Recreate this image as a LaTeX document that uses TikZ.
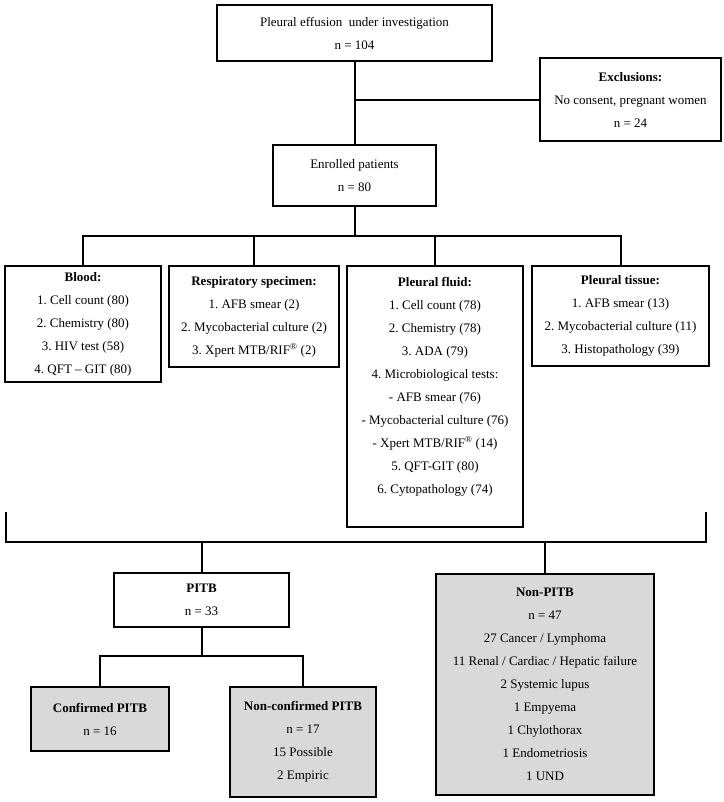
\documentclass[tikz,border=0pt]{standalone}
\usepackage{fontspec}
\setmainfont{Liberation Serif}
\frenchspacing

\begin{document}
\begin{tikzpicture}[x=1pt, y=-1pt, line width=2pt,
    box/.style={draw, align=center, inner sep=0pt, font=\fontsize{13}{23}\selectfont},
    greybox/.style={box, fill=black!15}]
\useasboundingbox (0,0) rectangle (723,802);

\node[box, minimum width=275, minimum height=56] (effusion) at (354.5,33)
    {Pleural effusion \ under investigation\\ n = 104};
\node[box, minimum width=181, minimum height=83] (excl) at (630.5,100)
    {\textbf{Exclusions:}\\ No consent, pregnant women\\ n = 24};
\node[box, minimum width=163, minimum height=61] (enrolled) at (354.5,175.5)
    {Enrolled patients\\ n = 80};

\node[box, minimum width=156, minimum height=116] (blood) at (83,324)
    {\textbf{Blood:}\\ 1. Cell count (80)\\ 2. Chemistry (80)\\ 3. HIV test (58)\\ 4. QFT -- GIT (80)};
\node[box, minimum width=170, minimum height=101] (resp) at (254,316.5)
    {\textbf{Respiratory specimen:}\\ 1. AFB smear (2)\\ 2. Mycobacterial culture (2)\\ 3. Xpert MTB/RIF\textsuperscript{®} (2)};
\node[box, minimum width=176, minimum height=261] (fluid) at (435,396.5)
    {\textbf{Pleural fluid:}\\ 1. Cell count (78)\\ 2. Chemistry (78)\\ 3. ADA (79)\\ 4. Microbiological tests:\\
     - AFB smear (76)\\ - Mycobacterial culture (76)\\ - Xpert MTB/RIF\textsuperscript{®} (14)\\ 5. QFT-GIT (80)\\
     6. Cytopathology (74)\\ \mbox{}};
\node[box, minimum width=177, minimum height=100] (tissue) at (620.5,316)
    {\textbf{Pleural tissue:}\\ 1. AFB smear (13)\\ 2. Mycobacterial culture (11)\\ 3. Histopathology (39)};

\node[box, minimum width=175, minimum height=54] (pitb) at (201.5,600)
    {\textbf{PITB}\\ n = 33};
\node[greybox, minimum width=218, minimum height=221] (nonpitb) at (545,684.5)
    {\textbf{Non-PITB}\\ n = 47\\ 27 Cancer / Lymphoma\\ 11 Renal / Cardiac / Hepatic failure\\ 2 Systemic lupus\\
     1 Empyema\\ 1 Chylothorax\\ 1 Endometriosis\\ 1 UND};
\node[greybox, minimum width=138, minimum height=64] (conf) at (100,719)
    {\textbf{Confirmed PITB}\\ n = 16};
\node[greybox, minimum width=146, minimum height=110] (nonconf) at (303,742)
    {\textbf{Non-confirmed PITB}\\ n = 17\\ 15 Possible\\ 2 Empiric};

% connectors
\coordinate (bus1) at (354.5,236);
\coordinate (bus2) at (354.5,542);
\coordinate (bus3) at (201.5,656);
\coordinate (bl) at (5.5,512);
\coordinate (br) at (706,512);

\draw (effusion) -- (enrolled);
\draw (excl.west) -- (excl.west -| effusion.south);
\draw (enrolled) -- (bus1);
\draw (blood.north) |- (bus1) -| (tissue.north);
\draw (resp.north) -- (resp.north |- bus1);
\draw (fluid.north) -- (fluid.north |- bus1);

\draw (bl) |- (bus2) -| (br);
\draw (pitb.north) -- (pitb.north |- bus2);
\draw (nonpitb.north) -- (nonpitb.north |- bus2);

\draw (pitb.south) -- (bus3);
\draw (conf.north) |- (bus3) -| (nonconf.north);

\end{tikzpicture}
\end{document}
